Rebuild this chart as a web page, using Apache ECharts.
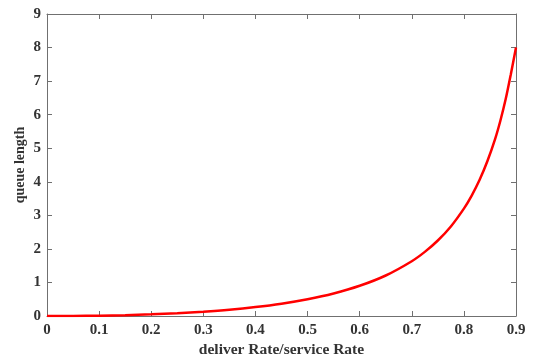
<!DOCTYPE html>
<html>
<head>
<meta charset="utf-8">
<script src="https://cdn.jsdelivr.net/npm/echarts@6/dist/echarts.min.js"></script>
<style>
  html, body { margin: 0; padding: 0; background: #fff; }
  #chart { width: 534px; height: 361px; }
</style>
</head>
<body>
<div id="chart"></div>
<script>
// Utilisation ratio (x) and mean queue length (y)
const rateRatio = [0, 0.05, 0.1, 0.15, 0.2, 0.25, 0.3, 0.35, 0.4, 0.45, 0.5, 0.55, 0.6, 0.65, 0.7, 0.725, 0.75, 0.775, 0.8, 0.815, 0.83, 0.845, 0.86, 0.87, 0.88, 0.89, 0.9];
const queueLength = [0, 0.003, 0.011, 0.026, 0.05, 0.083, 0.129, 0.188, 0.267, 0.368, 0.5, 0.672, 0.9, 1.207, 1.633, 1.911, 2.25, 2.669, 3.2, 3.59, 4.05, 4.61, 5.28, 5.82, 6.45, 7.2, 8.0];
const xTicks = [0, 0.1, 0.2, 0.3, 0.4, 0.5, 0.6, 0.7, 0.8, 0.9];
const yTicks = [0, 1, 2, 3, 4, 5, 6, 7, 8, 9];

const axisGrey = '#707070';
const textDark = '#333333';
const serif = '"Liberation Serif", "Times New Roman", serif';

const points = rateRatio.map((x, i) => [x, queueLength[i]]);

const chart = echarts.init(document.getElementById('chart'), null, { renderer: 'canvas' });

function frameAxis(extra) {
  return Object.assign({
    axisLine: { show: true, onZero: false, lineStyle: { color: axisGrey, width: 1 } },
    axisTick: { show: true, inside: true, length: 5, lineStyle: { color: axisGrey } },
    splitLine: { show: false }
  }, extra);
}

const tickFont = { fontFamily: serif, fontWeight: 'bold', fontSize: 15, color: textDark };

chart.setOption({
  animation: false,
  backgroundColor: '#ffffff',
  grid: { left: 47, right: 18, top: 14, bottom: 45, containLabel: false, outerBoundsMode: 'none' },
  xAxis: [
    frameAxis({
      type: 'value', min: xTicks[0], max: xTicks[xTicks.length - 1], interval: 0.1,
      position: 'bottom',
      name: 'deliver Rate/service Rate',
      nameLocation: 'middle', nameGap: 26, nameMoveOverlap: false,
      nameTextStyle: { fontFamily: serif, fontWeight: 'bold', fontSize: 15.5, color: textDark },
      axisLabel: Object.assign({ margin: 7, formatter: v => String(Math.round(v * 10) / 10) }, tickFont)
    }),
    frameAxis({
      type: 'value', min: xTicks[0], max: xTicks[xTicks.length - 1], interval: 0.1,
      position: 'top', axisLabel: { show: false }
    })
  ],
  yAxis: [
    frameAxis({
      type: 'value', min: yTicks[0], max: yTicks[yTicks.length - 1], interval: 1,
      position: 'left',
      name: 'queue length',
      nameLocation: 'middle', nameGap: 20, nameMoveOverlap: false,
      nameTextStyle: { fontFamily: serif, fontWeight: 'bold', fontSize: 14, color: textDark },
      axisLabel: Object.assign({ margin: 6 }, tickFont)
    }),
    frameAxis({
      type: 'value', min: yTicks[0], max: yTicks[yTicks.length - 1], interval: 1,
      position: 'right', axisLabel: { show: false }
    })
  ],
  series: [
    {
      type: 'line',
      data: points,
      smooth: 0.3,
      showSymbol: false,
      lineStyle: { color: '#ff0000', width: 2.5 },
      xAxisIndex: 0,
      yAxisIndex: 0,
      z: 3
    },
    {
      // empty series so the top and right frame axes are drawn
      type: 'line',
      data: [],
      xAxisIndex: 1,
      yAxisIndex: 1,
      showSymbol: false
    }
  ]
});
</script>
</body>
</html>
